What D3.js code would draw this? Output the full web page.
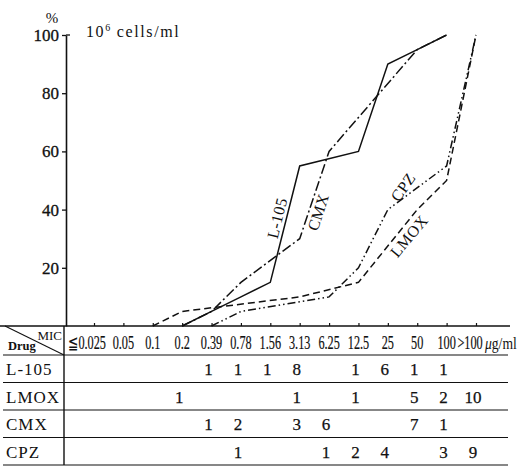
<!DOCTYPE html>
<html>
<head>
<meta charset="utf-8">
<script src="https://cdn.jsdelivr.net/npm/d3@7"></script>
<style>
  html, body { margin: 0; padding: 0; background: #fff; }
  svg { display: block; }
  text { font-family: "Liberation Serif", "Times New Roman", "DejaVu Serif", serif; fill: #111; }
</style>
</head>
<body>
<div id="chart"></div>
<script>
// MIC columns (µg/ml)
const mic = ["≦0.025", "0.05", "0.1", "0.2", "0.39", "0.78", "1.56", "3.13", "6.25", "12.5", "25", "50", "100", ">100"];
const drugs = ["L-105", "LMOX", "CMX", "CPZ"];
const yTicks = [20, 40, 60, 80, 100];

// cumulative % inhibited, per MIC column (null = no point on curve)
const pctL105 = [null, null, null, 0, 5, 10, 15, 55, null, 60, 90, 95, 100, null];
const pctLMOX = [null, null, 0, 5, null, null, null, 10, null, 15, null, 40, 50, 100];
const pctCMX  = [null, null, null, 0, 5, 15, null, 30, 60, null, null, 95, 100, null];
const pctCPZ  = [null, null, null, null, 0, 5, null, null, 10, 20, 40, null, 55, 100];

// number of strains per MIC column (table below the chart)
const cntL105 = [null, null, null, null, 1, 1, 1, 8, null, 1, 6, 1, 1, null];
const cntLMOX = [null, null, null, 1, null, null, null, 1, null, 1, null, 5, 2, 10];
const cntCMX  = [null, null, null, null, 1, 2, null, 3, 6, null, null, 7, 1, null];
const cntCPZ  = [null, null, null, null, null, 1, null, null, 1, 2, 4, null, 3, 9];

const W = 526, H = 475;
const svg = d3.select("#chart").append("svg").attr("width", W).attr("height", H);

const x = d3.scalePoint().domain(mic).range([94, 476]);
const y = d3.scaleLinear().domain([0, 100]).range([326, 35]);
const axisX = 66, tableRight = 508;

// y axis
const gy = svg.append("g").attr("transform", `translate(${axisX},0)`)
    .call(d3.axisLeft(y).tickValues(yTicks).tickSize(4).tickSizeOuter(0).tickPadding(3));
gy.select(".domain").attr("stroke", "#111").attr("stroke-width", 1.6);
gy.selectAll(".tick line").attr("stroke", "#111").attr("stroke-width", 1.3);
gy.selectAll(".tick text")
    .style("font-family", '"Liberation Serif", "Times New Roman", serif')
    .style("font-size", "17px").attr("fill", "#111")
    .attr("stroke", "#111").attr("stroke-width", 0.3);
gy.append("line").attr("x1", 0).attr("x2", 4).attr("y1", y(100)).attr("y2", y(100))
    .attr("stroke", "#111").attr("stroke-width", 1.3);

svg.append("text").attr("x", 52).attr("y", 23).attr("text-anchor", "middle")
    .style("font-size", "15px").text("%");
const unit = svg.append("text").attr("x", 86).attr("y", 37)
    .style("font-size", "16px").style("letter-spacing", "1.6px");
unit.append("tspan").text("10");
unit.append("tspan").attr("dy", -6).style("font-size", "10px").text("6");
unit.append("tspan").attr("dy", 6).attr("dx", 5).text("cells/ml");

// x axis: line doubles as the table's top rule
svg.append("line").attr("x1", 0).attr("x2", tableRight + 2).attr("y1", y(0)).attr("y2", y(0))
    .attr("stroke", "#111").attr("stroke-width", 1.4);
const gx = svg.append("g").attr("transform", `translate(0,${y(0)})`)
    .call(d3.axisTop(x).tickSize(3).tickSizeOuter(0).tickFormat(""));
gx.select(".domain").remove();
gx.selectAll(".tick line").attr("stroke", "#111").attr("stroke-width", 1.2);

// curves
const series = [
  { name: "L-105", pct: pctL105, dash: null },
  { name: "LMOX", pct: pctLMOX, dash: "7,4" },
  { name: "CMX", pct: pctCMX, dash: "10,3,2,3" },
  { name: "CPZ", pct: pctCPZ, dash: "8,3,1.5,3,1.5,3" }
];
const line = d3.line()
    .x(d => x(d.mic))
    .y(d => y(d.v));
series.forEach(s => {
  const pts = mic.map((m, i) => ({ mic: m, v: s.pct[i] })).filter(d => d.v !== null);
  svg.append("path").datum(pts)
      .attr("d", line)
      .attr("fill", "none")
      .attr("stroke", "#111")
      .attr("stroke-width", 1.5)
      .attr("stroke-dasharray", s.dash);
});

// curve labels
const curveLabels = [
  { text: "L-105", x: 277, y: 218, rot: -76 },
  { text: "CMX", x: 318, y: 212, rot: -72 },
  { text: "CPZ", x: 403, y: 187, rot: -55 },
  { text: "LMOX", x: 409, y: 236, rot: -50 }
];
svg.selectAll(".clabel").data(curveLabels).enter().append("text")
    .attr("class", "clabel")
    .attr("transform", d => `translate(${d.x},${d.y}) rotate(${d.rot})`)
    .attr("text-anchor", "middle")
    .attr("dy", "0.35em")
    .style("font-size", "16px")
    .style("letter-spacing", "0.5px")
    .text(d => d.text);

// table
const tableTop = y(0), headBottom = 355, rowH = 27.5;
const counts = [cntL105, cntLMOX, cntCMX, cntCPZ];
const rule = (y1) => svg.append("line").attr("x1", 3).attr("x2", tableRight)
    .attr("y1", y1).attr("y2", y1).attr("stroke", "#111").attr("stroke-width", 1.2);

rule(headBottom);
drugs.forEach((d, i) => rule(headBottom + rowH * (i + 1)));
svg.append("line").attr("x1", axisX - 2).attr("x2", axisX - 2)
    .attr("y1", tableTop).attr("y2", headBottom + rowH * drugs.length)
    .attr("stroke", "#111").attr("stroke-width", 1.4);
svg.append("line").attr("x1", 5).attr("y1", tableTop).attr("x2", axisX - 2).attr("y2", headBottom)
    .attr("stroke", "#111").attr("stroke-width", 1.1);
svg.append("text").attr("x", 62).attr("y", 340).attr("text-anchor", "end")
    .style("font-size", "13px").text("MIC");
svg.append("text").attr("x", 8).attr("y", 350)
    .style("font-size", "12.5px").style("font-weight", "bold").text("Drug");

// header labels, condensed like the printed table
const labelShift = { "≦0.025": -7, ">100": -6 };
svg.selectAll(".mic").data(mic).enter().append("text")
    .attr("class", "mic")
    .attr("transform", d => `translate(${x(d) + (labelShift[d] || 0)},348.5) scale(0.68,1)`)
    .attr("text-anchor", "middle")
    .style("font-size", "18px")
    .attr("stroke", "#111").attr("stroke-width", 0.2)
    .text(d => d);
const ug = svg.append("text").attr("transform", "translate(485,348.5) scale(0.8,1)")
    .style("font-size", "17px");
ug.append("tspan").style("font-style", "italic").text("μ");
ug.append("tspan").text("g/ml");

drugs.forEach((d, i) => {
  const cy = headBottom + rowH * i + rowH / 2 + 6.5;
  svg.append("text").attr("x", 6).attr("y", cy)
      .style("font-size", "17px").style("letter-spacing", "1px").text(d);
  svg.selectAll(".cnt" + i)
      .data(mic.map((m, j) => ({ mic: m, n: counts[i][j] })).filter(c => c.n !== null))
      .enter().append("text")
      .attr("x", c => x(c.mic) - 3)
      .attr("y", cy)
      .attr("text-anchor", "middle")
      .style("font-size", "17px")
      .attr("stroke", "#111").attr("stroke-width", 0.25)
      .text(c => c.n);
});
</script>
</body>
</html>
